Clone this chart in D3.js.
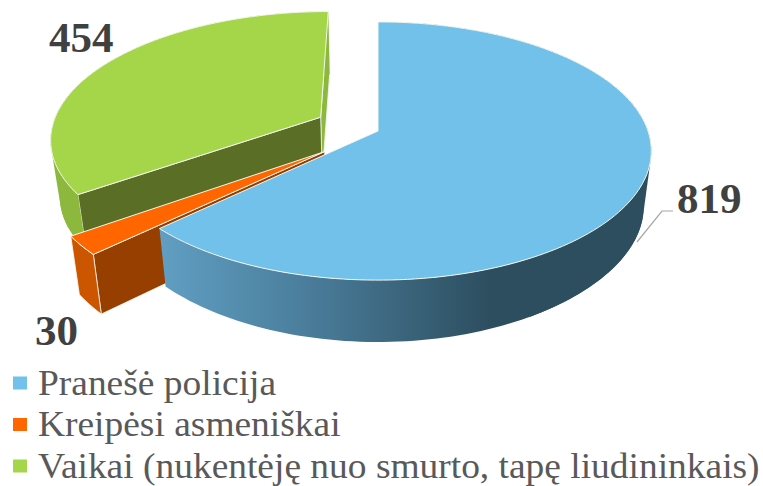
<!DOCTYPE html>
<html>
<head>
<meta charset="utf-8">
<script src="https://cdn.jsdelivr.net/npm/d3@7"></script>
<style>
  body { margin: 0; background: #fff; }
  text { font-family: "Liberation Serif", serif; }
</style>
</head>
<body>
<div id="chart"></div>
<script>
const categories = ["Pranešė policija", "Kreipėsi asmeniškai", "Vaikai (nukentėję nuo smurto, tapę liudininkais)"];
const values = [819, 30, 454];

const topColors = ["#71c1eb", "#ff6600", "#a5d64a"];
const outerColors = ["url(#blueSide)", "#cc5500", "#8db83e"];
const wallColors = ["#2d4e5f", "#963f00", "#5a6f25"];

const explode = [0, 0.25, 0.243];

const svg = d3.select("#chart").append("svg")
  .attr("width", 763)
  .attr("height", 486);

// side of the blue slice gets lighter to the left
const grad = svg.append("defs").append("linearGradient")
  .attr("id", "blueSide")
  .attr("gradientUnits", "userSpaceOnUse")
  .attr("x1", 158).attr("x2", 490).attr("y1", 0).attr("y2", 0);
grad.append("stop").attr("offset", "0").attr("stop-color", "#619fc3");
grad.append("stop").attr("offset", "0.45").attr("stop-color", "#4a7d9b");
grad.append("stop").attr("offset", "1").attr("stop-color", "#2d4e5f");

// perspective for the top and the bottom plane of the pie
const cx = 378;
function projTop(u, v) {
  const k = 1 / (1 - 0.155 * v);
  return [cx + 270 * u * k, 131 + 126 * v * k];
}
function projBottom(u, v) {
  const k = 1 / (1 - 0.155 * v);
  return [cx + 0.972 * 270 * u * k, 187 + 124 * v / (1 - 0.2 * v)];
}

const pie = d3.pie().sort(null).value(d => d);
const arcs = pie(values);
const line = d3.line();

arcs.forEach((a, i) => {
  const mid = (a.startAngle + a.endAngle) / 2;
  a.ox = Math.sin(mid) * explode[i];
  a.oy = -Math.cos(mid) * explode[i];
});

function rim(a, plane, from, to) {
  const t0 = from === undefined ? a.startAngle : from;
  const t1 = to === undefined ? a.endAngle : to;
  const n = Math.ceil((t1 - t0) * 40);
  return d3.range(n + 1).map(j => {
    const t = t0 + (t1 - t0) * j / n;
    return plane(a.ox + Math.sin(t), a.oy - Math.cos(t));
  });
}
function poly(pts, fill, sw) {
  svg.append("path")
    .attr("d", line(pts) + "Z")
    .attr("fill", fill)
    .attr("stroke", sw ? "#f4f7ee" : "none")
    .attr("stroke-width", sw || 0)
    .attr("stroke-linejoin", "round");
}
// straight silhouette between the two rims on the far side of the pie
function silhouette(a, i, from, to) {
  const deg = Math.PI / 180;
  const pts = rim(a, projTop, from * deg, to * deg).concat(rim(a, projBottom, from * deg, to * deg));
  poly(d3.polygonHull(pts), outerColors[i], 0);
}

function drawSlice(a, i) {
  const topRim = rim(a, projTop);
  const botRim = rim(a, projBottom);
  const apexT = projTop(a.ox, a.oy);
  const apexB = projBottom(a.ox, a.oy);
  const last = topRim.length - 1;

  if (i === 0) silhouette(a, i, 70, 150);
  if (i === 2) silhouette(a, i, 245, 300);

  // radial walls
  if (i === 2) {
    poly([apexT, topRim[last], botRim[last], apexB], outerColors[2], 0.8);
    poly([apexT, topRim[0], botRim[0], apexB], wallColors[2], 0.8);
  }
  if (i === 1) {
    poly([apexT, topRim[0], botRim[0], apexB], wallColors[1], 0.8);
  }
  // outer wall
  poly(topRim.concat(botRim.slice().reverse()), outerColors[i], i === 1 ? 0.8 : 0);
  // top face
  poly([apexT].concat(topRim), topColors[i], 1);
}

// back to front
[2, 1, 0].forEach(i => drawSlice(arcs[i], i));

// leader line of 819
svg.append("path")
  .attr("d", line([[637, 242], [662, 211], [673, 211]]))
  .attr("fill", "none")
  .attr("stroke", "#a6a6a6")
  .attr("stroke-width", 1.2);

const labelPos = [[677, 213], [35, 345], [49, 52]];
svg.selectAll("text.val")
  .data(values)
  .join("text")
  .attr("class", "val")
  .attr("x", (d, i) => labelPos[i][0])
  .attr("y", (d, i) => labelPos[i][1])
  .attr("font-size", 43)
  .attr("font-weight", "bold")
  .attr("fill", "#404040")
  .text(d => d);

// legend
const legendY = d3.scalePoint().domain(categories).range([394.5, 477.5]);
const legend = svg.selectAll("g.leg")
  .data(categories)
  .join("g")
  .attr("class", "leg");
legend.append("rect")
  .attr("x", 13)
  .attr("y", d => legendY(d) - 18)
  .attr("width", 14)
  .attr("height", 13)
  .attr("fill", (d, i) => topColors[i]);
legend.append("text")
  .attr("transform", d => `translate(38,${legendY(d)}) scale(1.07,1)`)
  .attr("font-size", 35)
  .attr("fill", "#595959")
  .text(d => d);
</script>
</body>
</html>
